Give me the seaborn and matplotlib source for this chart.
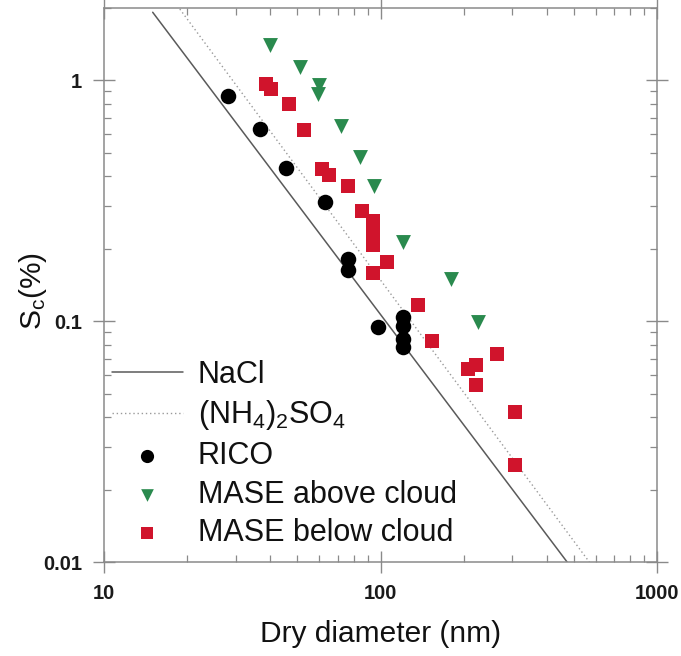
import matplotlib
matplotlib.use("Agg")
import matplotlib.pyplot as plt
import matplotlib.ticker as mticker
import numpy as np
import pandas as pd
import seaborn as sns

# Theoretical critical supersaturation lines (end points, dry diameter in nm, Sc in %)
nacl_d = [15.0, 473.0]
nacl_sc = [1.92, 0.01]
amsul_d = [18.8, 569.0]
amsul_sc = [1.98, 0.01]

# RICO measurements
rico_d = [28.0, 36.7, 45.4, 63.0, 76.5, 76.5, 98.0, 121.0, 121.0, 121.0, 121.0]
rico_sc = [0.86, 0.63, 0.432, 0.312, 0.182, 0.164, 0.0944, 0.104, 0.096, 0.084, 0.078]

# MASE above cloud
above_d = [40.0, 51.0, 60.0, 59.5, 72.0, 84.0, 95.0, 121.0, 180.0, 225.0]
above_sc = [1.41, 1.14, 0.96, 0.88, 0.645, 0.48, 0.363, 0.213, 0.15, 0.099]

# MASE below cloud
below_d = [38.5, 40.3, 46.6, 53.0, 61.5, 65.0, 76.0, 85.5, 94.0, 94.0, 94.0, 94.0,
           94.0, 106.0, 137.0, 153.0, 207.0, 222.0, 222.0, 263.0, 307.0, 307.0]
below_sc = [0.97, 0.92, 0.80, 0.62, 0.43, 0.405, 0.366, 0.287, 0.26, 0.24, 0.224, 0.208,
            0.158, 0.176, 0.117, 0.0826, 0.0636, 0.0655, 0.0546, 0.0734, 0.042, 0.0252]

sns.set_style("ticks")
plt.rcParams["font.family"] = ["Liberation Sans", "DejaVu Sans"]
plt.rcParams["mathtext.fontset"] = "custom"
plt.rcParams["mathtext.rm"] = "Liberation Sans"
plt.rcParams["mathtext.it"] = "Liberation Sans:italic"
plt.rcParams["mathtext.bf"] = "Liberation Sans:bold"

fig = plt.figure(figsize=(6.81, 6.56), dpi=100)
ax = fig.add_axes([104 / 681, 1 - 562 / 656, 553 / 681, 554 / 656])
ax.set_xscale("log")
ax.set_yscale("log")

lines_df = pd.DataFrame({"d": nacl_d + amsul_d, "sc": nacl_sc + amsul_sc,
                         "salt": ["NaCl"] * 2 + ["AS"] * 2})
sns.lineplot(data=lines_df[lines_df.salt == "NaCl"], x="d", y="sc", ax=ax,
             color="#5a5a5a", linewidth=1.1, errorbar=None, legend=False)
nacl_line = ax.lines[-1]
sns.lineplot(data=lines_df[lines_df.salt == "AS"], x="d", y="sc", ax=ax,
             color="#9a9a9a", linewidth=1.0, linestyle=(0, (1, 2)), errorbar=None,
             legend=False)
as_line = ax.lines[-1]

sns.scatterplot(x=rico_d, y=rico_sc, ax=ax, marker="o", s=125, color="black",
                linewidth=0, legend=False, zorder=3)
rico_pts = ax.collections[-1]
sns.scatterplot(x=above_d, y=above_sc, ax=ax, marker="v", s=115, color="#2a8a4e",
                linewidth=0, legend=False, zorder=3)
above_pts = ax.collections[-1]
sns.scatterplot(x=below_d, y=below_sc, ax=ax, marker="s", s=95, color="#d0142c",
                linewidth=0, legend=False, zorder=3)
below_pts = ax.collections[-1]

ax.set_xlim(10, 1000)
ax.set_ylim(0.01, 2.0)

ax.xaxis.set_major_locator(mticker.LogLocator(base=10, numticks=10))
ax.yaxis.set_major_locator(mticker.LogLocator(base=10, numticks=10))
ax.xaxis.set_minor_locator(mticker.LogLocator(base=10, subs=np.arange(2, 10), numticks=20))
ax.yaxis.set_minor_locator(mticker.LogLocator(base=10, subs=np.arange(2, 10), numticks=20))
ax.xaxis.set_minor_formatter(mticker.NullFormatter())
ax.yaxis.set_minor_formatter(mticker.NullFormatter())
ax.xaxis.set_major_formatter(mticker.FuncFormatter(lambda v, p: f"{v:g}"))
ax.yaxis.set_major_formatter(mticker.FuncFormatter(lambda v, p: f"{v:g}"))

for sp in ax.spines.values():
    sp.set_color("#8a8a8a")
    sp.set_linewidth(1.1)

ax.tick_params(which="major", direction="inout", length=16, width=1.0, color="#8a8a8a",
               top=True, right=True, labeltop=False, labelright=False,
               labelsize=14.5, labelcolor="#1a1a1a", pad=8)
ax.tick_params(which="minor", direction="in", length=5, width=0.9, color="#8a8a8a",
               top=True, right=True)
for lbl in ax.get_xticklabels() + ax.get_yticklabels():
    lbl.set_fontweight("bold")

ax.set_xlabel("Dry diameter (nm)", fontsize=21.5, color="#111111", labelpad=12)
ax.set_ylabel(r"S$_\mathrm{c}$(%)", fontsize=21.5, color="#111111")
ax.yaxis.set_label_coords(-0.10, 0.49)

handles = [nacl_line, as_line, rico_pts, above_pts, below_pts]
labels = ["NaCl", r"(NH$_4$)$_2$SO$_4$", "RICO", "MASE above cloud", "MASE below cloud"]
leg = ax.legend(handles, labels, loc="lower left", bbox_to_anchor=(0.015, 0.025),
                frameon=False, fontsize=22, handlelength=2.3, handletextpad=0.5,
                labelspacing=0.28, borderpad=0, borderaxespad=0, markerscale=0.85)
for t in leg.get_texts():
    t.set_color("#111111")

fig.savefig("out.png", dpi=100)
